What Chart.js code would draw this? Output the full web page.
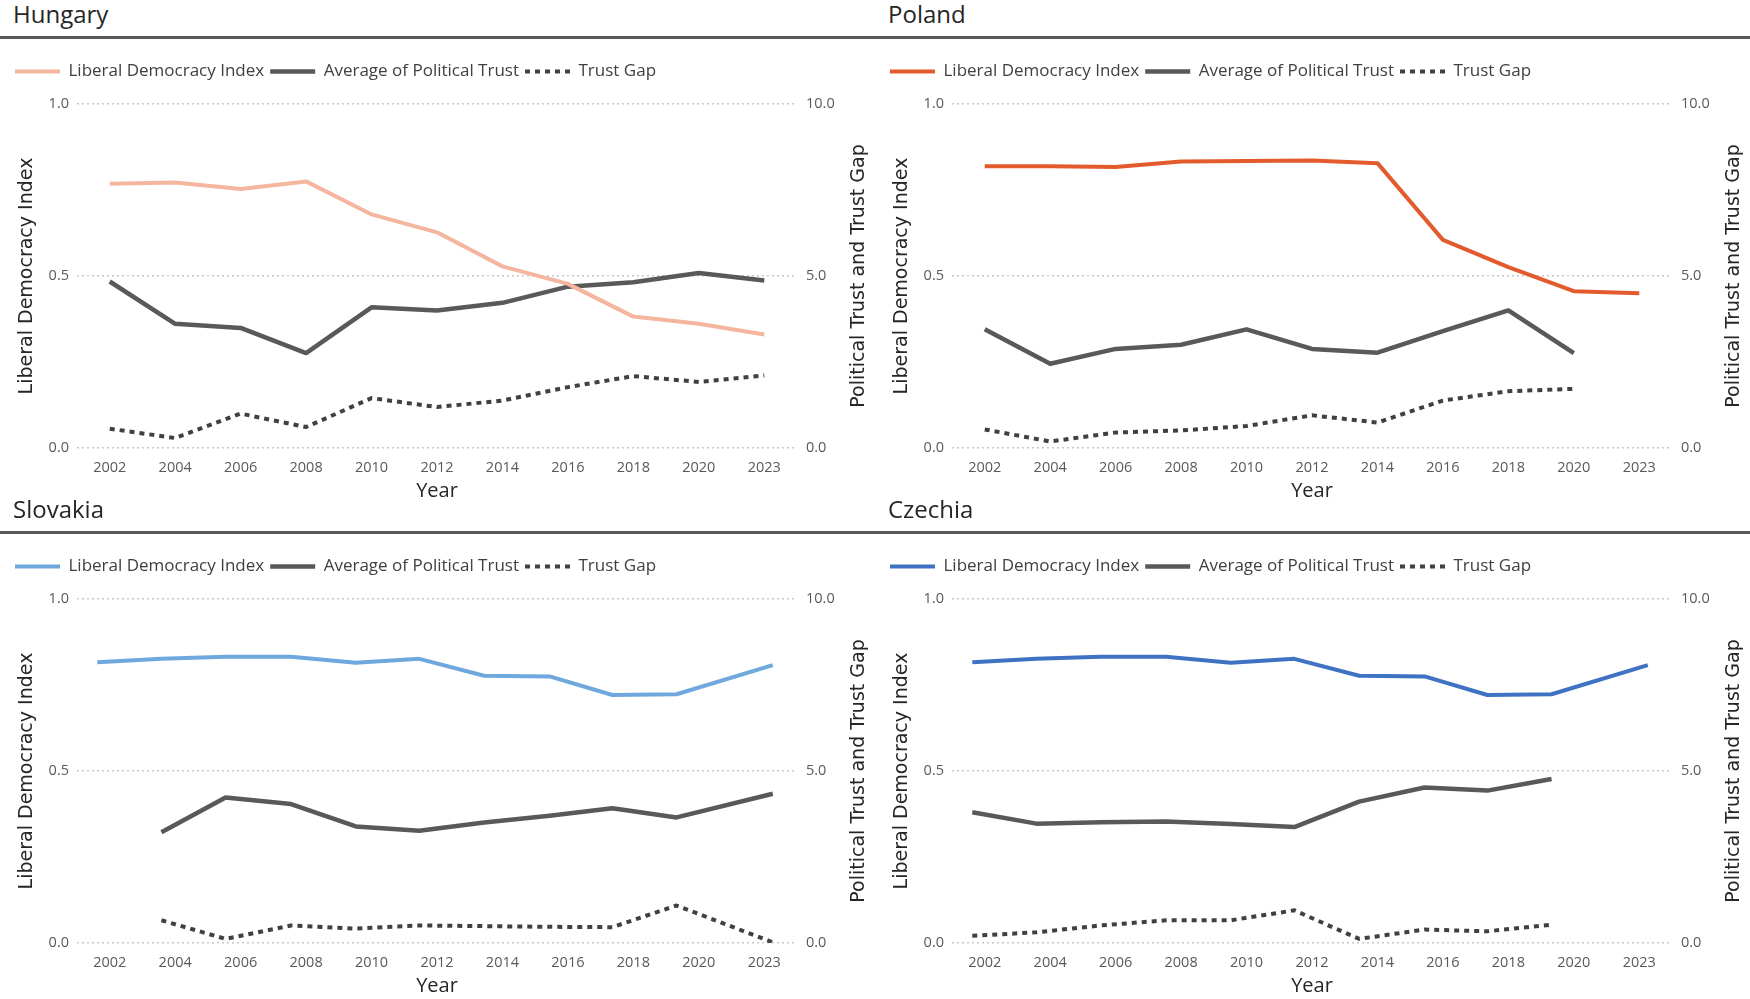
<!DOCTYPE html>
<html>
<head>
<meta charset="utf-8">
<script src="https://cdn.jsdelivr.net/npm/chart.js@4.4.1/dist/chart.umd.min.js"></script>
<style>
  body { margin: 0; background: #fff; }
  #page { position: relative; width: 1750px; height: 999px; overflow: hidden; }
  .panel { position: absolute; width: 875px; height: 500px; }
  .title { position: absolute; left: 13px; top: 0; height: 28px; line-height: 28px;
           font-family: "Open Sans", sans-serif; font-size: 24px; color: #262626; }
  .rule { position: absolute; left: 0; top: 36px; width: 875px; height: 2.5px; background: #595959; }
  .panel canvas { position: absolute; left: 0; top: 45px; }
</style>
</head>
<body>
<div id="page">
  <div class="panel" style="left:0;top:0"><div class="title">Hungary</div><div class="rule"></div><canvas id="hu" width="875" height="458"></canvas></div>
  <div class="panel" style="left:875px;top:0"><div class="title">Poland</div><div class="rule"></div><canvas id="pl" width="875" height="458"></canvas></div>
  <div class="panel" style="left:0;top:495px"><div class="title">Slovakia</div><div class="rule"></div><canvas id="sk" width="875" height="458"></canvas></div>
  <div class="panel" style="left:875px;top:495px"><div class="title">Czechia</div><div class="rule"></div><canvas id="cz" width="875" height="458"></canvas></div>
</div>
<script>
// year labels on the x axis
const years = ['2002', '2004', '2006', '2008', '2010', '2012', '2014', '2016', '2018', '2020', '2023'];

// where the points sit along the axis (in label slots); the lower panels are drawn shifted
const topX = [0, 1, 2, 3, 4, 5, 6, 7, 8, 9, 10];
const bottomX = [-0.19, 0.79, 1.77, 2.77, 3.76, 4.73, 5.72, 6.72, 7.68, 8.66, 10.13];

// Hungary
const huLdi = [0.768, 0.772, 0.753, 0.775, 0.679, 0.627, 0.528, 0.477, 0.382, 0.361, 0.330];
const huTrust = [4.84, 3.61, 3.49, 2.76, 4.09, 4.00, 4.22, 4.69, 4.82, 5.09, 4.87];
const huGap = [0.56, 0.29, 1.00, 0.61, 1.45, 1.19, 1.38, 1.77, 2.09, 1.92, 2.11];

// Poland
const plLdi = [0.819, 0.819, 0.817, 0.833, 0.834, 0.836, 0.828, 0.605, 0.526, 0.456, 0.450];
const plTrust = [3.45, 2.45, 2.88, 3.00, 3.45, 2.88, 2.77, 3.40, 4.00, 2.76, null];
const plGap = [0.54, 0.19, 0.45, 0.51, 0.64, 0.95, 0.74, 1.38, 1.65, 1.72, null];

// Slovakia
const skLdi = [0.816, 0.826, 0.832, 0.832, 0.815, 0.826, 0.777, 0.775, 0.721, 0.723, 0.808];
const skTrust = [null, 3.22, 4.23, 4.04, 3.39, 3.26, 3.50, 3.70, 3.92, 3.65, 4.34];
const skGap = [null, 0.66, 0.12, 0.51, 0.42, 0.51, 0.49, 0.47, 0.46, 1.09, 0.02];

// Czechia
const czLdi = [0.816, 0.826, 0.832, 0.832, 0.815, 0.826, 0.777, 0.775, 0.721, 0.723, 0.808];
const czTrust = [3.80, 3.47, 3.51, 3.53, 3.46, 3.37, 4.11, 4.52, 4.43, 4.77, null];
const czGap = [0.21, 0.31, 0.51, 0.66, 0.66, 0.95, 0.12, 0.39, 0.34, 0.53, null];

const tickFont = { family: 'Open Sans', size: 14.5 };
const titleFont = { family: 'DejaVu Sans', size: 19 };

// push the plot area down a bit below the legend
const legendSpace = {
    id: 'legendSpace',
    beforeInit(chart) {
        const fit = chart.legend.fit;
        chart.legend.fit = function () {
            fit.call(this);
            this.height += 14;
        };
    }
};

// right axis title reads bottom-to-top, like the left one
const rightTitle = {
    id: 'rightTitle',
    afterDraw(chart) {
        const s = chart.scales.y1;
        const ctx = chart.ctx;
        ctx.save();
        ctx.translate(s.right - 16, (s.top + s.bottom) / 2);
        ctx.rotate(-Math.PI / 2);
        ctx.font = '19px "DejaVu Sans"';
        ctx.fillStyle = '#262626';
        ctx.textAlign = 'center';
        ctx.textBaseline = 'middle';
        ctx.fillText('Political Trust and Trust Gap', 0, 0);
        ctx.restore();
    }
};

function points(xs, vals) {
    return xs.map((x, i) => ({ x: x, y: vals[i] }));
}

function makeChart(id, xs, ldi, trust, gap, ldiColor) {
    new Chart(document.getElementById(id), {
        type: 'line',
        data: {
            datasets: [
                { label: 'Liberal Democracy Index', data: points(xs, ldi), yAxisID: 'y',
                  borderColor: ldiColor, borderWidth: 4 },
                { label: 'Average of Political Trust', data: points(xs, trust), yAxisID: 'y1',
                  borderColor: '#595959', borderWidth: 4.5 },
                { label: 'Trust Gap', data: points(xs, gap), yAxisID: 'y1',
                  borderColor: '#404040', borderWidth: 4, borderDash: [5, 5] }
            ]
        },
        options: {
            responsive: false,
            animation: false,
            devicePixelRatio: 1,
            layout: { padding: { top: 12, left: 9, right: 0, bottom: 0 } },
            elements: {
                point: { radius: 0 },
                line: { tension: 0, borderJoinStyle: 'round' }
            },
            plugins: {
                tooltip: { enabled: false },
                legend: {
                    position: 'top',
                    align: 'start',
                    labels: {
                        usePointStyle: true,
                        pointStyleWidth: 45,
                        padding: 6,
                        color: '#404040',
                        font: { family: 'Open Sans', size: 17 },
                        generateLabels: chart => chart.data.datasets.map((ds, i) => ({
                            text: ds.label,
                            strokeStyle: ds.borderColor,
                            fillStyle: ds.borderColor,
                            lineWidth: ds.borderWidth,
                            lineDash: ds.borderDash || [],
                            pointStyle: 'line',
                            fontColor: '#404040',
                            hidden: false,
                            datasetIndex: i
                        }))
                    }
                }
            },
            scales: {
                x: {
                    type: 'linear',
                    min: -0.5,
                    max: 10.5,
                    afterBuildTicks: s => { s.ticks = years.map((_, i) => ({ value: i })); },
                    afterFit: s => { s.height = 55; },
                    grid: { display: false },
                    border: { display: false },
                    ticks: {
                        autoSkip: false,
                        maxRotation: 0,
                        padding: 3,
                        color: '#595959',
                        font: tickFont,
                        callback: v => years[v]
                    },
                    title: { display: true, text: 'Year', color: '#262626',
                             font: { family: 'Open Sans', size: 20 }, padding: 0 }
                },
                y: {
                    position: 'left',
                    min: 0,
                    max: 1,
                    afterFit: s => { s.width = 68; },
                    ticks: { stepSize: 0.5, padding: 8, color: '#595959', font: tickFont,
                             callback: v => v.toFixed(1) },
                    grid: { color: '#C8C8C8', lineWidth: 1.5, drawTicks: false },
                    border: { display: false, dash: [2, 3] },
                    title: { display: true, text: 'Liberal Democracy Index', color: '#262626',
                             font: titleFont, padding: { top: 7, bottom: 0 } }
                },
                y1: {
                    position: 'right',
                    min: 0,
                    max: 10,
                    afterFit: s => { s.width = 78; },
                    ticks: { stepSize: 5, padding: 9, color: '#595959', font: tickFont,
                             callback: v => v.toFixed(1) },
                    grid: { display: false, drawTicks: false },
                    border: { display: false },
                    title: { display: false }
                }
            }
        },
        plugins: [legendSpace, rightTitle]
    });
}

makeChart('hu', topX, huLdi, huTrust, huGap, '#F4B69F');
makeChart('pl', topX, plLdi, plTrust, plGap, '#E35B2C');
makeChart('sk', bottomX, skLdi, skTrust, skGap, '#6FA8DC');
makeChart('cz', bottomX, czLdi, czTrust, czGap, '#3F72C2');
</script>
</body>
</html>
